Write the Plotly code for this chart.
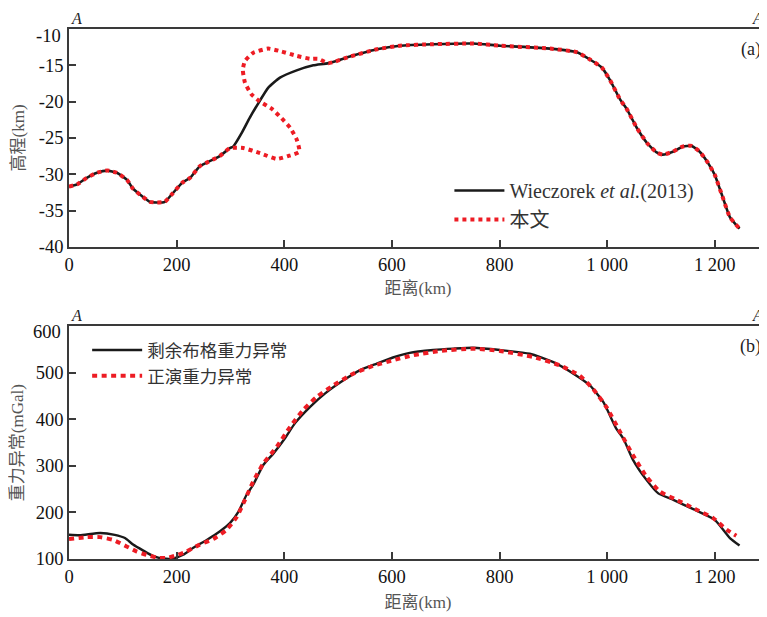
import plotly.graph_objects as go

# ---------------- data: panel (a) ----------------
dist_wz = [0, 15, 33, 52, 71, 89, 108, 119, 137, 150, 163, 178, 193, 210, 225, 243, 256, 280, 299,
           305, 321, 336, 352, 370, 392, 423, 454, 482, 522, 572, 615, 676, 751, 801, 894, 944,
           968, 990, 1005, 1024, 1037, 1055, 1074, 1092, 1103, 1122, 1140, 1157, 1172, 1187,
           1200, 1213, 1228, 1246]
elev_wz = [-31.7, -31.4, -30.5, -29.8, -29.5, -29.8, -30.8, -32.0, -33.1, -33.8, -33.9, -33.8,
           -32.6, -31.2, -30.5, -28.9, -28.4, -27.5, -26.4,
           -26.2, -24.3, -22.2, -20.2, -18.1, -16.7, -15.7, -15.0, -14.7, -13.8, -12.8, -12.3,
           -12.1, -12.0, -12.3, -12.7, -13.2, -14.2, -15.3, -17.0, -19.7, -21.1, -23.6, -25.7,
           -27.0, -27.3, -26.9, -26.2, -26.1, -26.9, -28.4, -30.1, -32.8, -35.9, -37.5]

# loop section of this study's model (between 299 km and 482 km)
loop_dist = [324, 355, 386, 407, 428, 423, 411, 395, 377, 355, 339, 327, 323, 327, 342, 370,
             395, 423, 448, 463]
loop_elev = [-26.4, -27.1, -27.9, -27.5, -26.9, -25.2, -23.6, -22.3, -21.0, -20.0, -19.0,
             -17.4, -15.6, -14.4, -13.3, -12.7, -13.1, -13.7, -14.1, -14.1]

i_start = dist_wz.index(299)
i_end = dist_wz.index(482)
dist_bw = dist_wz[:i_start + 1] + loop_dist + dist_wz[i_end:]
elev_bw = elev_wz[:i_start + 1] + loop_elev + elev_wz[i_end:]

# ---------------- data: panel (b) ----------------
dist_bg = [0, 20, 58, 85, 104, 119, 138, 157, 175, 194, 212, 231, 256, 280, 299, 315, 330, 342,
           361, 380, 401, 420, 448, 476, 510, 541, 572, 602, 633, 677, 714, 751, 801, 856, 900,
           943, 968, 993, 1017, 1030, 1048, 1073, 1095, 1123, 1160, 1200, 1228, 1246]
grav_bg = [152, 151, 156, 152, 145, 131, 118, 106, 101, 101, 109, 124, 141, 159, 177, 202, 238,
           259, 302, 327, 359, 392, 427, 456, 484, 506, 520, 533, 543, 549, 552, 554, 549, 541,
           523, 494, 473, 437, 380, 359, 313, 270, 241, 227, 207, 184, 145, 129]

dist_fw = [0, 33, 58, 82, 107, 126, 144, 163, 181, 200, 218, 243, 268, 293, 312, 327, 342, 361,
           386, 411, 435, 460, 491, 528, 565, 602, 640, 689, 751, 801, 863, 912, 949, 974, 999,
           1024, 1048, 1073, 1098, 1129, 1166, 1197, 1222, 1240]
grav_fw = [143, 147, 147, 141, 127, 116, 109, 103, 102, 108, 116, 131, 143, 163, 191, 227, 266,
           305, 341, 384, 420, 448, 473, 498, 515, 527, 538, 547, 552, 547, 534, 516, 494, 465,
           426, 373, 323, 277, 245, 227, 206, 188, 163, 150]

x_ticks = [0, 200, 400, 600, 800, 1000, 1200]
x_ticktext = ["0", "200", "400", "600", "800", "1 000", "1 200"]
ya_ticks = [-40, -35, -30, -25, -20, -15, -10]
yb_ticks = [100, 200, 300, 400, 500, 600]

# ---------------- styling ----------------
SERIF = "Liberation Serif, Noto Sans CJK SC, serif"
RED = "#ED1C24"
BLACK = "#1a1a1a"
AX = "#3a3a3a"

fig = go.Figure()
fig.add_trace(go.Scatter(x=dist_wz, y=elev_wz, mode="lines",
                         line=dict(color=BLACK, width=2.6, shape="spline", smoothing=0.5),
                         name="Wieczorek <i>et al.</i>(2013)", legend="legend",
                         xaxis="x", yaxis="y"))
fig.add_trace(go.Scatter(x=dist_bw, y=elev_bw, mode="lines",
                         line=dict(color=RED, width=4, dash="4px,4px", shape="spline", smoothing=0.5),
                         name="本文", legend="legend", xaxis="x", yaxis="y"))
fig.add_trace(go.Scatter(x=dist_bg, y=grav_bg, mode="lines",
                         line=dict(color=BLACK, width=2.4, shape="spline", smoothing=0.5),
                         name="剩余布格重力异常", legend="legend2", xaxis="x2", yaxis="y2"))
fig.add_trace(go.Scatter(x=dist_fw, y=grav_fw, mode="lines",
                         line=dict(color=RED, width=4, dash="5px,4.5px", shape="spline", smoothing=0.5),
                         name="正演重力异常", legend="legend2", xaxis="x2", yaxis="y2"))

common_x = dict(range=[0, 1297], tickvals=x_ticks, ticktext=x_ticktext, ticks="inside",
                ticklen=7, tickwidth=1.5, tickcolor=AX, showline=True, linewidth=1.6,
                linecolor=AX, mirror=True, showgrid=False, zeroline=False, automargin=False,
                tickfont=dict(family=SERIF, size=18.5, color="#111"))
common_y = dict(ticks="inside", ticklen=7, tickwidth=1.5, tickcolor=AX, showline=True,
                linewidth=1.6, linecolor=AX, showgrid=False, zeroline=False, automargin=False,
                tickfont=dict(family=SERIF, size=18.5, color="#111"))

title_font = dict(family=SERIF, size=17, color="#555")

# the page body adds an 8 px offset, so the figure is 8 px smaller and margins shifted
fig.update_layout(
    width=759, height=609,
    margin=dict(l=61, r=0, t=21, b=58),
    paper_bgcolor="white", plot_bgcolor="white",
    font=dict(family=SERIF, size=18, color="#111"),
    xaxis=dict(common_x, domain=[0, 1], anchor="y",
               title=dict(text="距离(km)", font=title_font, standoff=8)),
    yaxis=dict(common_y, domain=[0.589, 1], anchor="x", range=[-40, -10],
               tickvals=ya_ticks, ticktext=["-40", "-35", "-30", "-25", "-20", "-15", ""],
               title=dict(text="高程(km)", font=title_font, standoff=10)),
    xaxis2=dict(common_x, domain=[0, 1], anchor="y2",
                title=dict(text="距离(km)", font=title_font, standoff=10)),
    yaxis2=dict(common_y, domain=[0, 0.439], anchor="x2", range=[100, 600],
                tickvals=yb_ticks, ticktext=["100", "200", "300", "400", "500", ""],
                title=dict(text="重力异常(mGal)", font=title_font, standoff=10)),
    legend=dict(x=0.545, y=0.732, xanchor="left", yanchor="top", bgcolor="rgba(0,0,0,0)",
                font=dict(family=SERIF, size=20, color="#333"), itemwidth=50,
                tracegroupgap=0),
    legend2=dict(x=0.026, y=0.428, xanchor="left", yanchor="top", bgcolor="rgba(0,0,0,0)",
                 font=dict(family=SERIF, size=17.5, color="#333"), itemwidth=50,
                 tracegroupgap=0),
    showlegend=True,
)

ann_font = dict(family=SERIF, size=18.5, color="#111")
a_font = dict(family=SERIF, size=16, color="#222")
annotations = [
    dict(text="-10", x=0, y=-10, xref="x", yref="y", xanchor="right", yanchor="middle",
         xshift=-6, yshift=-7, showarrow=False, font=ann_font),
    dict(text="600", x=0, y=600, xref="x2", yref="y2", xanchor="right", yanchor="middle",
         xshift=-6, yshift=-6, showarrow=False, font=ann_font),
    dict(text="<i>A</i>", x=0, y=1, xref="x domain", yref="y domain", xanchor="left",
         yanchor="bottom", xshift=0, yshift=0, showarrow=False, font=a_font),
    dict(text="<i>A</i>", x=1, y=1, xref="x domain", yref="y domain", xanchor="right",
         yanchor="bottom", xshift=-2, yshift=0, showarrow=False, font=a_font),
    dict(text="<i>A</i>", x=0, y=1, xref="x2 domain", yref="y2 domain", xanchor="left",
         yanchor="bottom", xshift=0, yshift=0, showarrow=False, font=a_font),
    dict(text="<i>A</i>", x=1, y=1, xref="x2 domain", yref="y2 domain", xanchor="right",
         yanchor="bottom", xshift=-2, yshift=0, showarrow=False, font=a_font),
    dict(text="(a)", x=1, y=1, xref="x domain", yref="y domain", xanchor="right",
         yanchor="top", xshift=-4, yshift=-8, showarrow=False,
         font=dict(family=SERIF, size=18, color="#222")),
    dict(text="(b)", x=1, y=1, xref="x2 domain", yref="y2 domain", xanchor="right",
         yanchor="top", xshift=-4, yshift=-8, showarrow=False,
         font=dict(family=SERIF, size=18, color="#222")),
]
fig.update_layout(annotations=annotations)

fig.write_html("out.html")
